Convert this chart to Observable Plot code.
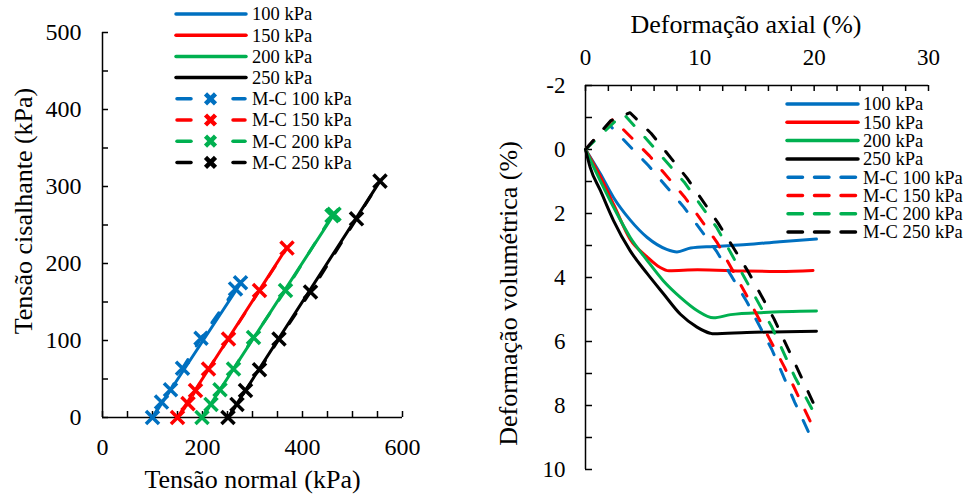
<!DOCTYPE html>
<html><head><meta charset="utf-8">
<script src="https://cdn.jsdelivr.net/npm/d3@7"></script>
<script src="https://cdn.jsdelivr.net/npm/@observablehq/plot@0.6"></script>
<style>
html,body{margin:0;padding:0;background:#fff;}
#wrap{position:relative;width:966px;height:495px;display:flex;font-family:"Liberation Serif","Times New Roman",serif;}
#wrap svg{overflow:visible;}
#legend{position:absolute;left:0;top:0;pointer-events:none;}
</style></head>
<body>
<div id="wrap"><div id="left"></div><div id="right"></div><svg id="legend" width="966" height="495"></svg></div>
<script>
// ---------- Data ----------
const seriesNames = ["100 kPa", "150 kPa", "200 kPa", "250 kPa"];
const mcNames = ["M-C 100 kPa", "M-C 150 kPa", "M-C 200 kPa", "M-C 250 kPa"];
const colors = ["#0070C0", "#FF0000", "#00B050", "#000000"];

// Left panel: stress paths [normal stress, shear stress] (kPa)
const exp100 = [[100, 0], [277, 175]];
const exp150 = [[150, 0], [369, 221]];
const exp200 = [[199, 0], [463, 264]];
const exp250 = [[251, 0], [555, 307]];
const mcPath100 = [[100, 0], [118, 20], [136, 36], [160, 64], [197, 103], [266, 167], [276, 175]];
const mcPath150 = [[150, 0], [171, 18], [186, 35], [212, 63], [252, 102], [314, 165], [369, 220]];
const mcPath200 = [[199, 0], [217, 17], [235, 36], [262, 63], [302, 104], [366, 165], [459, 262], [463, 264]];
const mcPath250 = [[251, 0], [269, 17], [286, 35], [314, 62], [353, 102], [416, 163], [508, 258], [555, 307]];

// Right panel: [axial strain %, volumetric strain %]
const vol100 = [[0, 0], [1.3, 0.76], [2.45, 1.5], [3.9, 2.2], [5.4, 2.75], [7.1, 3.12], [8.0, 3.2], [9.2, 3.08], [11.2, 3.03], [14.1, 2.97], [17, 2.88], [20.2, 2.8]];
const vol150 = [[0, 0], [1.3, 0.85], [2.5, 1.75], [3.9, 2.8], [5.4, 3.36], [6.5, 3.68], [7.3, 3.79], [9.8, 3.76], [14, 3.8], [17, 3.81], [19.9, 3.78]];
const vol200 = [[0, 0], [1.0, 0.76], [2.45, 1.8], [3.9, 2.74], [5.4, 3.47], [6.8, 4.1], [8.3, 4.62], [9.75, 5.03], [11.2, 5.26], [12.7, 5.16], [15.6, 5.09], [20.2, 5.05]];
const vol250 = [[0, 0], [0.4, 0.55], [1.3, 1.28], [2.45, 2.22], [3.9, 3.16], [5.4, 3.88], [6.8, 4.5], [8.3, 5.15], [9.75, 5.55], [10.9, 5.74], [11.2, 5.76], [14.1, 5.72], [20.2, 5.68]];
const mcVol100 = [[0, 0], [2.0, -0.8], [5.5, 0.5], [8.6, 1.8], [11.5, 3.2], [14.1, 4.75], [16.3, 6.25], [18.3, 7.9], [19.6, 8.9]];
const mcVol150 = [[0, 0], [2.4, -0.95], [5.6, 0.2], [8.7, 1.5], [11.5, 2.9], [14, 4.5], [17.4, 6.8], [19.8, 8.6]];
const mcVol200 = [[0, 0], [3.3, -1.12], [5.4, -0.3], [8.7, 1.05], [11.5, 2.45], [13.9, 4.0], [16.3, 5.55], [18.3, 7.1], [19.8, 8.1]];
const mcVol250 = [[0, 0], [2.2, -0.9], [3.9, -1.15], [5.75, -0.5], [8.85, 0.88], [11.6, 2.3], [14.2, 3.8], [16.5, 5.3], [18.6, 6.9], [19.9, 7.9]];

// Tick values
const leftXTicks = [0, 200, 400, 600];
const leftYTicks = [0, 100, 200, 300, 400, 500];
const rightXTicks = [0, 10, 20, 30];
const rightYTicks = [-2, 0, 2, 4, 6, 8, 10];

const font = "Liberation Serif";

// ---------- Left panel ----------
const expPaths = [exp100, exp150, exp200, exp250];
const mcPaths = [mcPath100, mcPath150, mcPath200, mcPath250];

const left = Plot.plot({
  width: 480, height: 495,
  marginLeft: 102, marginRight: 78, marginTop: 32, marginBottom: 78,
  style: {fontFamily: font, fontSize: "24px", color: "#000", background: "transparent", overflow: "visible"},
  x: {domain: [0, 600]},
  y: {domain: [0, 500]},
  marks: [
    Plot.axisX(leftXTicks, {anchor: "bottom", tickSize: 0, tickPadding: 20, label: null, fontSize: 24}),
    Plot.axisY(leftYTicks, {anchor: "left", tickSize: 0, tickPadding: 21, label: null, fontSize: 24}),
    Plot.tickX(d3.range(0, 601, 50), {x: d => d, insetTop: 379, strokeWidth: 1.5, stroke: "#000"}),
    Plot.tickY(d3.range(0, 501, 50), {y: d => d, insetRight: 294, strokeWidth: 1.5, stroke: "#000"}),
    Plot.ruleX([0], {strokeWidth: 1.5}),
    Plot.ruleY([0], {strokeWidth: 1.5}),
    ...expPaths.map((s, i) => Plot.line(s, {x: d => d[0], y: d => d[1], stroke: colors[i], strokeWidth: 3})),
    ...mcPaths.map((s, i) => Plot.line(s, {x: d => d[0], y: d => d[1], stroke: colors[i], strokeWidth: 3, strokeDasharray: "12,16", strokeLinecap: "round"})),
    ...mcPaths.map((s, i) => Plot.dot(s, {x: d => d[0], y: d => d[1], symbol: "times", r: 6, stroke: colors[i], strokeWidth: 3.5})),
    Plot.text(["Tensão normal (kPa)"], {frameAnchor: "bottom", dy: 70, lineAnchor: "bottom", textAnchor: "middle", fontSize: 26}),
    Plot.text(["Tensão cisalhante (kPa)"], {frameAnchor: "left", dx: -79, dy: -14, rotate: -90, textAnchor: "middle", lineAnchor: "middle", fontSize: 26})
  ]
});
document.getElementById("left").appendChild(left);

// ---------- Right panel ----------
const volCurves = [vol100, vol150, vol200, vol250];
const mcVolCurves = [mcVol100, mcVol150, mcVol200, mcVol250];

const right = Plot.plot({
  width: 486, height: 495,
  marginLeft: 105, marginRight: 38, marginTop: 85, marginBottom: 26,
  style: {fontFamily: font, fontSize: "23px", color: "#000", background: "transparent", overflow: "visible"},
  x: {domain: [0, 30]},
  y: {domain: [-2, 10], reverse: true},
  marks: [
    Plot.axisX(rightXTicks, {anchor: "top", tickSize: 0, tickPadding: 21, label: null, fontSize: 23}),
    Plot.axisY(rightYTicks, {anchor: "left", tickSize: 0, tickPadding: 20, label: null, tickFormat: d => String(d), fontSize: 23}),
    Plot.tickX(d3.range(0, 31, 2), {x: d => d, insetBottom: 378, strokeWidth: 1.5, stroke: "#000"}),
    Plot.tickY(d3.range(-2, 11, 1), {y: d => d, insetRight: 336, strokeWidth: 1.5, stroke: "#000"}),
    Plot.ruleX([0], {strokeWidth: 1.5}),
    Plot.ruleY([-2], {strokeWidth: 1.5}),
    ...volCurves.map((s, i) => Plot.line(s, {x: d => d[0], y: d => d[1], stroke: colors[i], strokeWidth: 3, curve: "monotone-x"})),
    ...mcVolCurves.map((s, i) => Plot.line(s, {x: d => d[0], y: d => d[1], stroke: colors[i], strokeWidth: 3, strokeDasharray: "12,16", strokeLinecap: "round"})),
    Plot.text(["Deformação axial (%)"], {frameAnchor: "top", dx: -11, dy: -53, lineAnchor: "bottom", textAnchor: "middle", fontSize: 26}),
    Plot.text(["Deformação volumétrica (%)"], {frameAnchor: "left", dx: -77, dy: 16, rotate: -90, textAnchor: "middle", lineAnchor: "middle", fontSize: 26})
  ]
});
document.getElementById("right").appendChild(right);

// force the serif face on every text node the library produced
for (const svg of [left, right]) {
  svg.setAttribute("font-family", font);
  svg.querySelectorAll("g, text").forEach(el => {
    if (el.hasAttribute("font-family")) el.setAttribute("font-family", font);
  });
  svg.querySelectorAll("text").forEach(t => {
    t.setAttribute("font-family", font);
    t.style.setProperty("font-family", "'Liberation Serif', serif", "important");
    t.style.setProperty("font-weight", "normal", "important");
  });
}

// ---------- Legends ----------
const lg = d3.select("#legend");
function legend(x0, x1, tx, y0, step, withMarker) {
  const labels = seriesNames.concat(mcNames);
  labels.forEach((lab, k) => {
    const y = y0 + k * step, c = colors[k % 4];
    if (k < 4) {
      lg.append("line").attr("x1", x0).attr("x2", x1).attr("y1", y).attr("y2", y)
        .attr("stroke", c).attr("stroke-width", 3.5).attr("stroke-linecap", "round");
    } else if (withMarker) {
      lg.append("line").attr("x1", x0 + 1).attr("x2", x0 + 15).attr("y1", y).attr("y2", y)
        .attr("stroke", c).attr("stroke-width", 3.5).attr("stroke-linecap", "round");
      lg.append("line").attr("x1", x1 - 13).attr("x2", x1 - 1).attr("y1", y).attr("y2", y)
        .attr("stroke", c).attr("stroke-width", 3.5).attr("stroke-linecap", "round");
      const cx = (x0 + x1) / 2 - 0.5, r = 5;
      lg.append("path").attr("d", `M${cx - r},${y - r}L${cx + r},${y + r}M${cx - r},${y + r}L${cx + r},${y - r}`)
        .attr("stroke", c).attr("stroke-width", 4.5).attr("fill", "none");
    } else {
      lg.append("line").attr("x1", x0 + 1).attr("x2", x1 - 1).attr("y1", y).attr("y2", y)
        .attr("stroke", c).attr("stroke-width", 3.5).attr("stroke-linecap", "round")
        .attr("stroke-dasharray", "14.5,12");
    }
    lg.append("text").attr("x", tx).attr("y", y + 6.3).text(lab)
      .attr("font-family", font).attr("font-size", 18.5).attr("fill", "#000");
  });
}
legend(176, 246, 252, 14, 21.2, true);
legend(787, 858, 863, 104, 18.3, false);
</script>
</body></html>
